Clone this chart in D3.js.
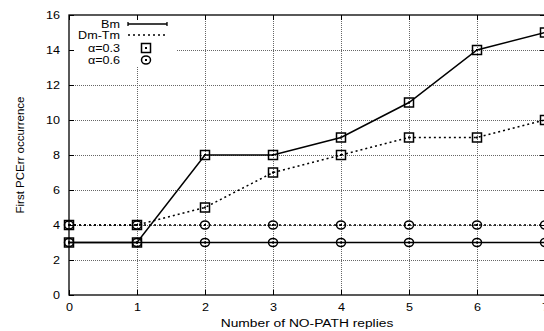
<!DOCTYPE html>
<html>
<head>
<meta charset="utf-8">
<script src="https://cdn.jsdelivr.net/npm/d3@7"></script>
<style>
  body { margin: 0; background: #fff; }
  text { font-family: "Liberation Sans", Arial, sans-serif; }
</style>
</head>
<body>
<svg id="chart" width="544" height="331"></svg>
<script>
// x values: number of NO-PATH replies
var replies = [0, 1, 2, 3, 4, 5, 6, 7];
var bmA03 = [3, 3, 8, 8, 9, 11, 14, 15];
var dmA03 = [4, 4, 5, 7, 8, 9, 9, 10];
var bmA06 = [3, 3, 3, 3, 3, 3, 3, 3];
var dmA06 = [4, 4, 4, 4, 4, 4, 4, 4];
var xTicks = [0, 1, 2, 3, 4, 5, 6, 7];
var yTicks = [0, 2, 4, 6, 8, 10, 12, 14, 16];

var series = [
  {vals: bmA03, dash: null, marker: "square"},
  {vals: dmA03, dash: "2,3", marker: "square"},
  {vals: bmA06, dash: null, marker: "circle"},
  {vals: dmA06, dash: "2,3", marker: "circle"}
];

var margin = {left: 69, right: -1, top: 15, bottom: 36};
var width = 544 - margin.left - margin.right;
var height = 331 - margin.top - margin.bottom;
var stretch = "scale(1.2,1)"; // text in the original is a bit wide

var svg = d3.select("#chart");
var g = svg.append("g").attr("transform", "translate(" + margin.left + "," + margin.top + ")");

var x = d3.scaleLinear().domain([0, 7]).range([0, width]);
var y = d3.scaleLinear().domain([0, 16]).range([height, 0]);

// grid
g.append("g").selectAll("line").data(xTicks.slice(1, -1)).enter().append("line")
  .attr("x1", d => x(d) + 0.5).attr("x2", d => x(d) + 0.5).attr("y1", 0).attr("y2", height)
  .attr("stroke", "#666").attr("stroke-width", 1).attr("stroke-dasharray", "1,1");
g.append("g").selectAll("line").data(yTicks.slice(1, -1)).enter().append("line")
  .attr("x1", 0).attr("x2", width).attr("y1", d => Math.round(y(d)) + 0.5).attr("y2", d => Math.round(y(d)) + 0.5)
  .attr("stroke", "#666").attr("stroke-width", 1).attr("stroke-dasharray", "1,1");

// legend background hides grid
g.append("rect").attr("x", 1).attr("y", 1).attr("width", 106).attr("height", 51).attr("fill", "#fff");

// axes with inward ticks
var xAxis = d3.axisBottom(x).tickValues(xTicks).tickFormat(d3.format("d"))
  .tickSizeInner(-5).tickSizeOuter(0).tickPadding(9);
var yAxis = d3.axisLeft(y).tickValues(yTicks).tickFormat(d3.format("d"))
  .tickSizeInner(-5).tickSizeOuter(0).tickPadding(7.5);
var gx = g.append("g").attr("transform", "translate(0," + height + ")").call(xAxis);
var gy = g.append("g").call(yAxis);
g.append("g").call(d3.axisTop(x).tickValues(xTicks).tickSizeInner(-5).tickSizeOuter(0).tickFormat(""));
g.append("g").attr("transform", "translate(" + width + ",0)")
  .call(d3.axisRight(y).tickValues(yTicks).tickSizeInner(-5).tickSizeOuter(0).tickFormat(""));
g.selectAll(".domain").remove();
g.selectAll(".tick line").attr("stroke", "#000");
gx.selectAll("text").attr("font-size", 10.5).attr("fill", "#000").attr("transform", stretch);
gy.selectAll("text").attr("font-size", 10.5).attr("fill", "#000").attr("transform", stretch);

g.append("rect").attr("width", width).attr("height", height)
  .attr("fill", "none").attr("stroke", "#000").attr("stroke-width", 1.3);

// lines
var line = d3.line().x((d, i) => x(replies[i])).y(d => y(d));
series.forEach(function (s) {
  g.append("path").datum(s.vals).attr("d", line)
    .attr("fill", "none").attr("stroke", "#000").attr("stroke-width", 1.5)
    .attr("stroke-dasharray", s.dash);
});

function drawMarker(sel, type, cx, cy) {
  if (type == "square") {
    sel.append("rect").attr("x", cx - 4.5).attr("y", cy - 4.5).attr("width", 9).attr("height", 9)
      .attr("fill", "none").attr("stroke", "#000").attr("stroke-width", 1.5);
  } else {
    sel.append("ellipse").attr("cx", cx).attr("cy", cy).attr("rx", 4.5).attr("ry", 4)
      .attr("fill", "none").attr("stroke", "#000").attr("stroke-width", 1.5);
  }
  sel.append("rect").attr("x", cx - 1).attr("y", cy - 1).attr("width", 2).attr("height", 2).attr("fill", "#000");
}

series.forEach(function (s) {
  var mg = g.append("g");
  s.vals.forEach(function (v, i) {
    drawMarker(mg, s.marker, x(replies[i]), y(v));
  });
});

// legend
var legend = g.append("g");
var rows = [
  {label: "Bm", y: 9, kind: "solid"},
  {label: "Dm-Tm", y: 20, kind: "dotted"},
  {label: "\u03b1=0.3", y: 33, kind: "square"},
  {label: "\u03b1=0.6", y: 45, kind: "circle"}
];
rows.forEach(function (r) {
  legend.append("text").attr("transform", "translate(51," + r.y + ") " + stretch)
    .attr("dy", "0.35em").attr("text-anchor", "end").attr("font-size", 10.5).text(r.label);
  if (r.kind == "solid" || r.kind == "dotted") {
    legend.append("line").attr("x1", 59).attr("x2", 98).attr("y1", r.y).attr("y2", r.y)
      .attr("stroke", "#000").attr("stroke-width", 1.3)
      .attr("stroke-dasharray", r.kind == "dotted" ? "2,3" : null);
    if (r.kind == "solid") {
      [59, 98].forEach(function (px) {
        legend.append("line").attr("x1", px).attr("x2", px).attr("y1", r.y - 2).attr("y2", r.y + 2)
          .attr("stroke", "#000").attr("stroke-width", 1.3);
      });
    }
  } else {
    drawMarker(legend, r.kind, 77, r.y);
  }
});

// axis titles
svg.append("text").attr("transform", "translate(" + (margin.left + width / 2) + ",327) " + stretch)
  .attr("text-anchor", "middle").attr("font-size", 11.5).text("Number of NO-PATH replies");
svg.append("text").attr("transform", "translate(24," + (margin.top + height / 2) + ") rotate(-90)")
  .attr("text-anchor", "middle").attr("font-size", 11.5).text("First PCErr occurrence");
</script>
</body>
</html>
